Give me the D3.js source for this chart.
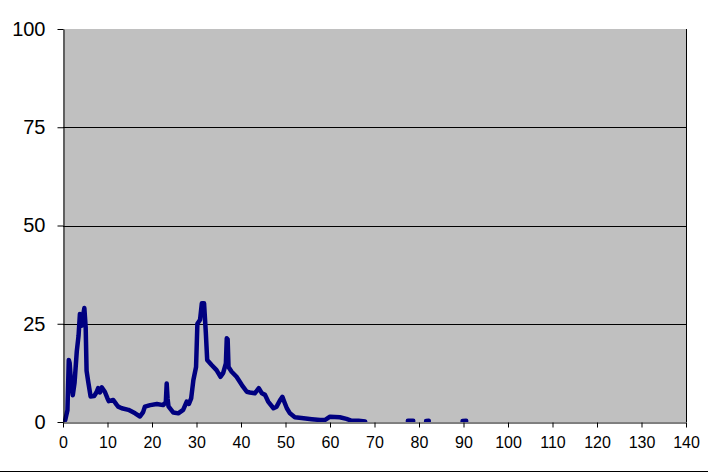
<!DOCTYPE html>
<html><head><meta charset="utf-8">
<script src="https://cdn.jsdelivr.net/npm/d3@7"></script>
<style>body{margin:0;background:#fff}svg{display:block}</style>
</head><body>
<svg id="c" width="708" height="473"></svg>
<script>
const xTicks = [0,10,20,30,40,50,60,70,80,90,100,110,120,130,140];
const yTicks = [0,25,50,75,100];
const xs = [0,0.5,1.0,1.3,1.5,1.8,2.2,2.6,3.1,3.5,3.8,4.2,4.5,4.8,5.1,5.3,5.7,6.2,7.0,7.5,7.9,8.3,8.7,9.4,10.0,10.3,11.3,12.0,12.4,13.2,14.7,16.2,17.3,18.0,18.4,19.6,21.1,22.5,23.1,23.3,23.5,23.7,24.8,25.9,27.0,27.8,28.3,28.8,29.3,29.9,30.2,30.8,31.2,31.7,32.1,32.4,33.4,34.5,35.4,36.0,36.6,36.8,37.0,37.2,37.9,39.0,40.2,41.3,42.0,43.1,44.0,44.7,45.4,46.1,47.3,48.0,48.8,49.3,49.7,50.3,51.0,52.1,53.6,55.9,57.8,59.0,60.0,62.2,63.7,64.9,66.4,67.9,
  70,77.5,78.7,80,81.6,82.2,85,89.8,90.6];
const ys = [0,0.5,3,15.8,15,10,6.8,10,18,22,27.5,24.5,27,29,24,13,10,6.5,6.6,7.5,8.6,7.5,8.8,7.7,6.0,5.3,5.6,4.5,3.9,3.5,3.1,2.2,1.4,2.5,3.9,4.3,4.6,4.3,5,9.8,6,4.0,2.4,2.2,3.1,5.2,4.6,6,10.7,14,25,26,30.2,30.2,22.6,15.8,14.5,13.2,11.5,12.5,14.9,21.3,21,14,12.8,11.5,9.4,7.7,7.5,7.3,8.6,7.3,6.9,5.2,3.5,3.9,5.6,6.4,5.2,3.5,2.2,1.2,1.0,0.7,0.5,0.6,1.35,1.2,0.8,0.3,0.3,0.1,
  null,0.3,0.3,null,0.25,0.3,null,0.25,0.3];

const svg = d3.select("#c");
const L=63, R=686, T=29, B=422;
const x = d3.scaleLinear().domain([0,140]).range([L,R]);
const y = d3.scaleLinear().domain([0,100]).range([B,T]);
const font = "'Liberation Sans', Arial, sans-serif";

svg.append("rect").attr("x",L).attr("y",T).attr("width",R-L).attr("height",B-T).attr("fill","#C0C0C0");

svg.append("g").selectAll("line").data(yTicks.filter(v=>v>0 && v<100)).join("line")
  .attr("x1",L).attr("x2",R).attr("y1",d=>Math.round(y(d))+0.5).attr("y2",d=>Math.round(y(d))+0.5)
  .attr("stroke","#000").attr("stroke-width",1);

svg.append("line").attr("x1",R+0.5).attr("x2",R+0.5).attr("y1",T).attr("y2",B).attr("stroke","#000");

svg.append("clipPath").attr("id","clp").append("rect").attr("x",L).attr("y",T).attr("width",R-L).attr("height",B-T);
const pts = xs.map((v,i)=>[v,ys[i]]);
const line = d3.line().defined(d=>d[1]!=null).x(d=>x(d[0])).y(d=>y(d[1]));
svg.append("path").attr("d",line(pts)).attr("fill","none").attr("stroke","#000080")
  .attr("stroke-width",4.5).attr("stroke-linejoin","round").attr("stroke-linecap","round")
  .attr("clip-path","url(#clp)");

const ya = d3.axisLeft(y).tickValues(yTicks).tickSize(6).tickPadding(12).tickSizeOuter(0);
const gy = svg.append("g").attr("transform",`translate(${L+0.5},0)`).call(ya);
gy.selectAll("text").attr("font-family",font).attr("font-size",20).attr("fill","#000");
gy.selectAll("line,path").attr("stroke","#000");

const xa = d3.axisBottom(x).tickValues(xTicks).tickSize(5).tickPadding(9).tickSizeOuter(0);
const gx = svg.append("g").attr("transform",`translate(0,${B+0.5})`).call(xa);
gx.selectAll("text").attr("font-family",font).attr("font-size",16).attr("fill","#000");
gx.selectAll("line,path").attr("stroke","#000");

svg.append("line").attr("x1",0).attr("x2",708).attr("y1",471.5).attr("y2",471.5).attr("stroke","#000");
</script>
</body></html>
